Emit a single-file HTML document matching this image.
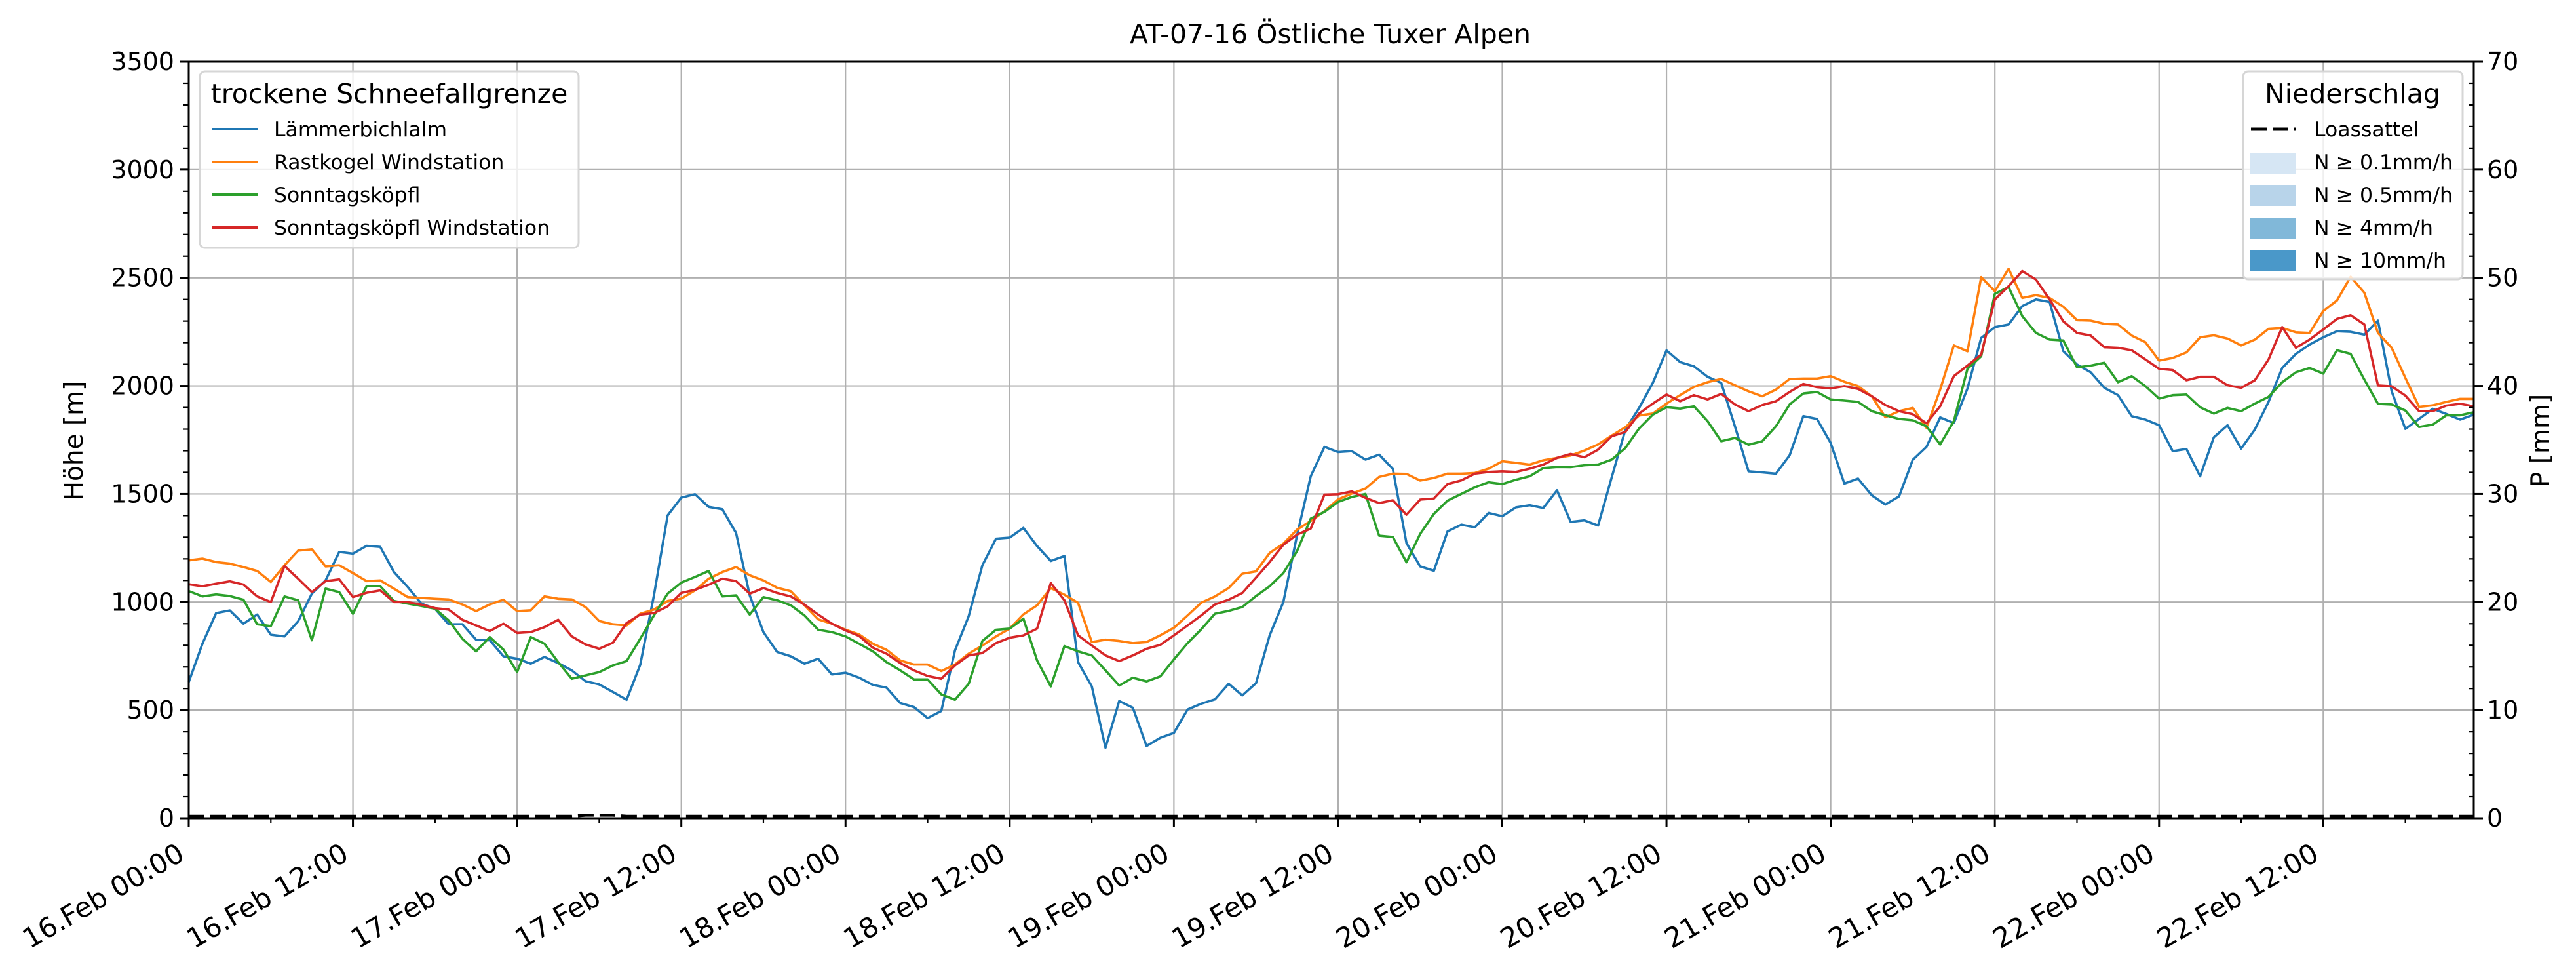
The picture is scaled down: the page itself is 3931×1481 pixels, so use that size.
<!DOCTYPE html>
<html><head><meta charset="utf-8"><title>AT-07-16 Östliche Tuxer Alpen</title>
<style>html,body{margin:0;padding:0;background:#fff}svg{display:block;font-family:"DejaVu Sans","Liberation Sans",sans-serif}</style>
</head><body>
<svg id="chart" width="3931" height="1481" viewBox="0 0 3931 1481" xmlns="http://www.w3.org/2000/svg">
<rect x="0" y="0" width="3931" height="1481" fill="#fff"/>
<g id="grid"></g><g id="series"></g><g id="axes"></g><g id="legends"></g>
</svg>
<script>
const xTickLabels = ["16.Feb 00:00","16.Feb 12:00","17.Feb 00:00","17.Feb 12:00","18.Feb 00:00","18.Feb 12:00","19.Feb 00:00","19.Feb 12:00","20.Feb 00:00","20.Feb 12:00","21.Feb 00:00","21.Feb 12:00","22.Feb 00:00","22.Feb 12:00"];
const yTicksLeft = [0,500,1000,1500,2000,2500,3000,3500];
const yTicksRight = [0,10,20,30,40,50,60,70];
const seriesNames = ["Lämmerbichlalm","Rastkogel Windstation","Sonntagsköpfl","Sonntagsköpfl Windstation"];
const laemmerbichlalm = [630,807,949,961,900,942,849,841,911,1039,1100,1232,1224,1260,1255,1139,1070,993,969,897,897,826,823,749,738,715,746,718,684,634,619,584,548,710,1031,1401,1483,1499,1440,1429,1320,1031,861,769,
749,715,738,665,673,650,617,604,533,514,463,496,776,934,1170,1293,1298,1343,1259,1190,1213,722,610,326,542,511,334,372,395,503,530,550,622,568,625,846,1000,1309,1582,1718,1694,1698,
1659,1682,1616,1273,1165,1145,1327,1358,1346,1412,1397,1438,1448,1435,1517,1371,1378,1354,1577,1798,1898,2014,2164,2110,2091,2042,2014,1813,1605,1600,1594,1679,1860,1847,1736,1548,1571,1494,1451,
1489,1658,1718,1854,1828,1988,2222,2272,2284,2369,2400,2388,2161,2099,2063,1991,1957,1860,1844,1818,1698,1708,1582,1762,1818,1710,1798,1926,2083,2148,2191,2225,2253,2250,2237,2302,1975,1801,1847,1894,1870,1844,1867];
const rastkogel = [1193,1201,1185,1178,1162,1144,1093,1170,1238,1244,1165,1170,1134,1097,1100,1062,1023,1019,1015,1012,989,958,989,1011,958,962,1026,1015,1012,977,912,897,892,946,965,1005,1016,1054,1108,1139,1162,1124,1100,1066,
1050,985,920,900,872,850,807,779,730,711,711,681,711,761,799,841,877,943,985,1065,1034,996,815,826,820,810,815,846,881,938,997,1026,1065,1131,1142,1227,1270,1335,1375,1420,1475,1502,
1525,1579,1594,1593,1562,1574,1594,1594,1597,1617,1651,1644,1636,1656,1667,1678,1701,1729,1770,1809,1863,1872,1918,1957,1995,2017,2032,2003,1975,1952,1983,2032,2034,2034,2045,2019,1999,1952,1855,
1883,1898,1806,1983,2187,2160,2503,2438,2542,2407,2420,2407,2366,2304,2302,2287,2284,2233,2202,2117,2129,2155,2225,2234,2219,2187,2214,2264,2268,2248,2245,2346,2395,2505,2431,2245,2176,2037,1903,1910,1926,1940,1940];
const sonntagskoepfl = [1051,1026,1035,1028,1011,897,889,1026,1008,823,1062,1046,946,1073,1073,1005,993,982,969,915,830,772,838,780,676,838,807,722,645,661,676,707,727,830,938,1039,1090,1116,1144,1026,1031,942,1023,1008,
985,938,872,861,841,807,772,722,684,642,642,573,548,622,820,872,877,923,730,610,796,772,753,684,614,650,633,656,735,810,874,946,959,977,1028,1073,1134,1236,1386,1417,1463,1486,
1500,1307,1301,1184,1315,1408,1469,1500,1531,1554,1546,1566,1582,1620,1625,1624,1633,1636,1659,1713,1803,1867,1901,1895,1906,1837,1744,1759,1728,1744,1813,1914,1965,1972,1937,1932,1926,1883,1864,
1847,1841,1813,1729,1837,2079,2137,2426,2457,2323,2245,2214,2210,2086,2094,2107,2017,2045,1999,1941,1957,1960,1901,1872,1898,1883,1918,1949,2017,2063,2083,2057,2165,2148,2029,1917,1914,1886,1810,1821,1864,1864,1878];
const sonntagskoepflWind = [1082,1073,1085,1096,1081,1026,1000,1167,1108,1046,1097,1105,1023,1043,1054,1000,1000,988,972,965,918,892,866,900,857,861,884,918,841,804,784,812,903,942,949,980,1042,1057,1080,1108,1097,1039,1065,1042,
1026,988,942,900,869,843,789,761,718,684,658,645,707,753,764,810,835,846,877,1088,1008,846,799,753,727,753,784,802,846,892,938,989,1011,1042,1113,1185,1265,1312,1340,1497,1499,1512,
1482,1458,1471,1404,1474,1479,1546,1563,1594,1602,1605,1602,1617,1636,1667,1685,1670,1705,1767,1787,1872,1918,1960,1929,1957,1937,1963,1914,1883,1911,1929,1972,2009,1994,1988,1999,1986,1952,1911,
1883,1869,1827,1906,2045,2094,2145,2400,2461,2531,2492,2400,2299,2245,2233,2179,2176,2165,2122,2079,2073,2026,2042,2042,2003,1991,2026,2122,2272,2176,2214,2261,2310,2327,2284,2002,1998,1955,1883,1883,1909,1917,1906];
const precipHours = [0,28,29,30,31,32,167];
const precipLoassattel = [0,0,0.1,0.1,0.1,0,0];

const NS="http://www.w3.org/2000/svg";
const L=288,R=3775,T=94,B=1248,XMAX=167;
function xs(h){return L+(R-L)*h/XMAX;}
function yl(v){return B-(B-T)*v/3500;}
function yr(v){return B-(B-T)*v/70;}
function mk(tag,attrs,parent){const e=document.createElementNS(NS,tag);for(const k in attrs)e.setAttribute(k,attrs[k]);parent.appendChild(e);return e;}
const grid=document.getElementById('grid'),ser=document.getElementById('series'),ax=document.getElementById('axes'),lg=document.getElementById('legends');
xTickLabels.forEach((t,i)=>{const x=xs(i*12);const g=mk('line',{x1:x,x2:x,y1:T,y2:B,stroke:'#b0b0b0','stroke-width':2.2},grid);

});
yTicksLeft.forEach(v=>{const y=yl(v);const g=mk('line',{x1:L,x2:R,y1:y,y2:y,stroke:'#b0b0b0','stroke-width':2.2},grid);

});
const cols=['#1f77b4','#ff7f0e','#2ca02c','#d62728'];
const all=[laemmerbichlalm,rastkogel,sonntagskoepfl,sonntagskoepflWind];
const sn=['series-laemmerbichlalm','series-rastkogel-windstation','series-sonntagskoepfl','series-sonntagskoepfl-windstation'];
all.forEach((arr,si)=>{const d=arr.map((v,i)=>(i?'L':'M')+xs(i).toFixed(1)+','+yl(v).toFixed(1)).join('');
const p=mk('path',{d:d,fill:'none',stroke:cols[si],'stroke-width':3.6,'stroke-linejoin':'round'},ser);

});
{const d=precipHours.map((h,i)=>(i?'L':'M')+xs(h).toFixed(1)+','+(yr(precipLoassattel[i])-3).toFixed(1)).join('');
const p=mk('path',{d:d,fill:'none',stroke:'#000','stroke-width':4.5,'stroke-dasharray':'24,9'},ser);

}
const fr=mk('rect',{x:L,y:T,width:R-L,height:B-T,fill:'none',stroke:'#000','stroke-width':3},ax);


for(let h=0;h<=XMAX;h+=6){const x=xs(h);const maj=h%12===0;mk('line',{x1:x,x2:x,y1:B,y2:B+(maj?14:8),stroke:'#000','stroke-width':maj?3:2.2},ax);}
xTickLabels.forEach((t,i)=>{const x=xs(i*12);const tx=mk('text',{x:x-4,y:B+62,'font-size':42,'text-anchor':'end',transform:`rotate(-30 ${x-4} ${B+62})`},ax);tx.textContent=t;

});
for(let v=0;v<=3500;v+=100){const y=yl(v);const maj=v%500===0;mk('line',{x1:L-(maj?14:8),x2:L,y1:y,y2:y,stroke:'#000','stroke-width':maj?3:2.2},ax);}
yTicksLeft.forEach(v=>{const tx=mk('text',{x:L-22,y:yl(v)+13,'font-size':38,'text-anchor':'end'},ax);tx.textContent=v;

});
for(let v=0;v<=70;v+=2){const y=yr(v);const maj=v%10===0;mk('line',{x1:R-(maj?0:8),x2:R+(maj?14:0),y1:y,y2:y,stroke:'#000','stroke-width':maj?3:2.2},ax);}
yTicksRight.forEach(v=>{const tx=mk('text',{x:R+20,y:yr(v)+13,'font-size':38,'text-anchor':'start'},ax);tx.textContent=v;

});
</script>
<svg style="position:absolute;left:0;top:0" width="3931" height="1481" viewBox="0 0 3931 1481" font-family="DejaVu Sans, Liberation Sans, sans-serif">
<text x="2030" y="66" font-size="41" text-anchor="middle">AT-07-16 Östliche Tuxer Alpen</text>
<text transform="translate(126 672) rotate(-90)" font-size="39" text-anchor="middle">Höhe [m]</text>
<text transform="translate(3890 672) rotate(-90)" font-size="39" text-anchor="middle">P [mm]</text>
<g>
<rect x="305" y="109" width="578" height="269" rx="8" fill="#fff" fill-opacity="0.8" stroke="#d6d6d6" stroke-width="3"/>
<text x="594" y="157" font-size="41" text-anchor="middle">trockene Schneefallgrenze</text>
<g font-size="31.5">
<line x1="323" x2="393" y1="197" y2="197" stroke="#1f77b4" stroke-width="4"/><text x="418" y="208">Lämmerbichlalm</text>
<line x1="323" x2="393" y1="247" y2="247" stroke="#ff7f0e" stroke-width="4"/><text x="418" y="258">Rastkogel Windstation</text>
<line x1="323" x2="393" y1="297" y2="297" stroke="#2ca02c" stroke-width="4"/><text x="418" y="308">Sonntagsköpfl</text>
<line x1="323" x2="393" y1="347" y2="347" stroke="#d62728" stroke-width="4"/><text x="418" y="358">Sonntagsköpfl Windstation</text>
</g></g>
<g>
<rect x="3423" y="109" width="335" height="317" rx="8" fill="#fff" fill-opacity="0.8" stroke="#d6d6d6" stroke-width="3"/>
<text x="3590" y="157" font-size="41" text-anchor="middle">Niederschlag</text>
<g font-size="31.5">
<line x1="3435" x2="3504" y1="197" y2="197" stroke="#000" stroke-width="5" stroke-dasharray="24,9"/><text x="3531" y="208">Loassattel</text>
<rect x="3434" y="233" width="70" height="32" fill="#d6e6f4"/><text x="3531" y="258">N ≥ 0.1mm/h</text>
<rect x="3434" y="282" width="70" height="32" fill="#b8d4ea"/><text x="3531" y="308">N ≥ 0.5mm/h</text>
<rect x="3434" y="332" width="70" height="32" fill="#81b8d9"/><text x="3531" y="358">N ≥ 4mm/h</text>
<rect x="3434" y="382" width="70" height="32" fill="#4a98c9"/><text x="3531" y="408">N ≥ 10mm/h</text>
</g></g>
</svg>
</body></html>
